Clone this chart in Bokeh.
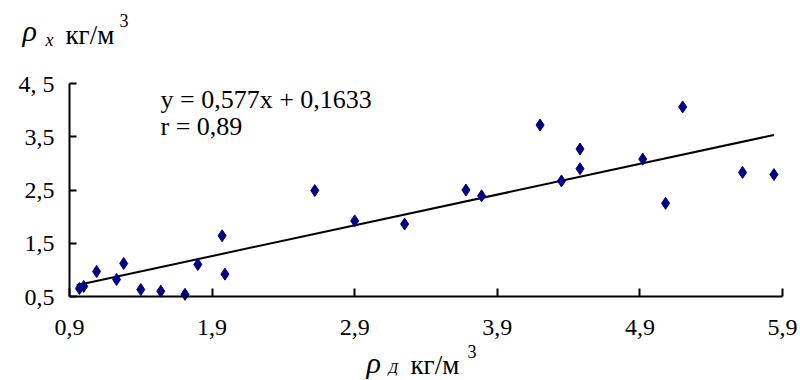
from bokeh.plotting import figure
from bokeh.models import Range1d, FixedTicker, Label
from bokeh.embed import file_html
from bokeh.resources import INLINE

# ---- data ----
x_vals = [0.97, 1.00, 1.09, 1.28, 1.23, 1.40, 1.54, 1.71, 1.80, 1.97, 1.99,
          2.62, 2.90, 3.25, 3.68, 3.79, 4.20, 4.35, 4.48, 4.48, 4.92, 5.08,
          5.20, 5.62, 5.84]
y_vals = [0.65, 0.69, 0.97, 1.12, 0.82, 0.63, 0.60, 0.54, 1.10, 1.64, 0.92,
          2.49, 1.92, 1.86, 2.50, 2.39, 3.72, 2.67, 3.27, 2.90, 3.08, 2.25,
          4.06, 2.83, 2.79]
slope = 0.577
intercept = 0.1633
trend_x = [0.95, 5.84]
trend_y = [slope * v + intercept for v in trend_x]

x_ticks = [0.9, 1.9, 2.9, 3.9, 4.9, 5.9]
x_tick_labels = ["0,9", "1,9", "2,9", "3,9", "4,9", "5,9"]
y_ticks = [0.5, 1.5, 2.5, 3.5, 4.5]
y_tick_labels = ["0,5", "1,5", "2,5", "3,5", "4, 5"]
eq_text = "y = 0,577x + 0,1633"
r_text = "r = 0,89"

FONT = "Liberation Serif"

# layout: axes drawn at fixed locations inside a frame that fills the canvas
W, H = 800, 380
AX_L, AX_R, AX_T, AX_B = 69, 782, 83, 296   # canvas pixels of the axis box
xlo, xhi = x_ticks[0], x_ticks[-1]
ylo, yhi = y_ticks[0], y_ticks[-1]
sx = (xhi - xlo) / (AX_R - AX_L)
sy = (yhi - ylo) / (AX_B - AX_T)
x_range = Range1d(xlo - AX_L * sx, xhi + (W - AX_R) * sx)
y_range = Range1d(ylo - (H - AX_B) * sy, yhi + AX_T * sy)

p = figure(width=W, height=H, output_backend="svg", toolbar_location=None,
           x_range=x_range, y_range=y_range,
           min_border_left=0, min_border_right=0,
           min_border_top=0, min_border_bottom=0)
p.min_border = 0
p.outline_line_color = None
p.xgrid.visible = False
p.ygrid.visible = False
p.background_fill_color = "white"
p.border_fill_color = "white"

for ax, ticks, labels, tick_in, loc, bnds in (
        (p.xaxis[0], x_ticks, x_tick_labels, 8, ylo, (xlo, xhi)),
        (p.yaxis[0], y_ticks, y_tick_labels, 7, xlo, (ylo, yhi))):
    ax.fixed_location = loc
    ax.bounds = bnds
    ax.ticker = FixedTicker(ticks=ticks)
    ax.major_label_overrides = {t: l for t, l in zip(ticks, labels)}
    ax.minor_tick_line_color = None
    ax.major_tick_in = tick_in
    ax.major_tick_out = 0
    ax.major_tick_line_width = 2
    ax.axis_line_width = 2
    ax.axis_line_color = "black"
    ax.major_tick_line_color = "black"
    ax.major_label_text_font = FONT
    ax.major_label_text_font_size = "24px"
    ax.major_label_text_color = "black"

p.xaxis[0].major_label_standoff = 23
p.yaxis[0].major_label_standoff = 15

p.line(trend_x, trend_y, line_color="black", line_width=2)
p.scatter(x_vals, y_vals, marker="diamond", size=12,
          fill_color="#000080", line_color="#000080")

BASE_SHIFT = 9  # rendered alphabetic baseline sits this much lower


def add_text(px, py, text, size, italic=False):
    lab = Label(x=px, y=H - (py - BASE_SHIFT), x_units="screen",
                y_units="screen", text=text, text_font=FONT,
                text_font_size=f"{size}px",
                text_font_style="italic" if italic else "normal",
                text_color="black", text_baseline="alphabetic",
                text_align="left")
    p.add_layout(lab)


# regression text
add_text(160, 108, eq_text, 26)
add_text(160, 135, r_text, 26)

# y-axis label
add_text(22, 39, "ρ", 30, italic=True)
add_text(45, 48, "х", 18, italic=True)
add_text(65, 43, "кг/м", 27)
add_text(119, 29, "3", 18)

# x-axis label
add_text(366, 371, "ρ", 30, italic=True)
add_text(388, 376, "Д", 15, italic=True)
add_text(410, 373, "кг/м", 27)
add_text(467, 360, "3", 18)

open("out.html", "w").write(file_html(p, INLINE))
